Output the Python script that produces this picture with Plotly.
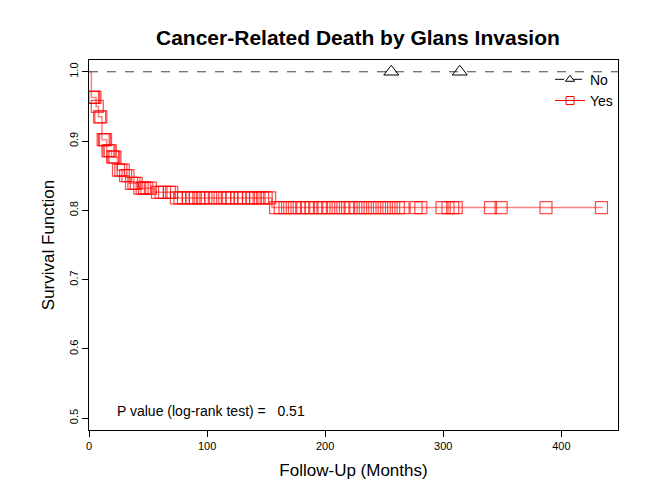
import plotly.graph_objects as go

# Kaplan-Meier steps (months, survival) for "Yes"
yes_event_t = [0, 2, 6, 8, 11, 15, 19, 24, 30, 34, 42, 55, 72, 155]
yes_event_s = [1.0, 0.963, 0.950, 0.935, 0.902, 0.886, 0.877, 0.858, 0.850, 0.839, 0.832, 0.826, 0.818, 0.804]
yes_end_t = 435

# censored times for "Yes"
yes_cens_t = [3, 4, 5, 7, 9, 10, 12, 13, 14, 16, 17, 18, 20, 21, 22, 25, 27, 29, 31, 33, 36, 38, 40, 43, 45, 47, 49,
              52, 58, 61, 64, 68, 70, 74, 77, 80, 84, 87, 90, 93, 96, 99, 103, 107, 111, 115, 118, 121, 125, 128,
              131, 135, 138, 141, 144, 147, 150, 153,
              158, 162, 166, 170, 174, 178, 181, 185, 188, 192, 196, 199, 203, 207, 211, 215, 219, 222, 226, 230,
              234, 238, 242, 246, 250, 254, 258, 262, 266, 277, 281, 299, 304, 308, 311, 340, 349, 387, 434]

# censored times for "No"
no_cens_t = [256, 314]
no_end_t = 314


def surv_at(t):
    s = 1.0
    for et, es in zip(yes_event_t, yes_event_s):
        if et <= t:
            s = es
    return s


step_x, step_y = [], []
for i, (t, s) in enumerate(zip(yes_event_t, yes_event_s)):
    if i > 0:
        step_x.append(t)
        step_y.append(yes_event_s[i - 1])
    step_x.append(t)
    step_y.append(s)
step_x.append(yes_end_t)
step_y.append(yes_event_s[-1])

fig = go.Figure()
fig.add_trace(go.Scatter(x=[0, no_end_t, 448], y=[1, 1, 1], mode='lines',
                         line=dict(color='#444444', dash='dash', width=1), showlegend=False, hoverinfo='skip'))
fig.add_trace(go.Scatter(x=no_cens_t, y=[1.0] * len(no_cens_t), mode='markers',
                         marker=dict(symbol='triangle-up-open', size=13, color='black', line=dict(width=1)),
                         showlegend=False))
fig.add_trace(go.Scatter(x=step_x, y=step_y, mode='lines',
                         line=dict(color='rgba(255,0,0,0.5)', width=1.5), showlegend=False, hoverinfo='skip'))
fig.add_trace(go.Scatter(x=yes_cens_t, y=[surv_at(t) for t in yes_cens_t], mode='markers',
                         marker=dict(symbol='square-open', size=12, color='rgba(255,0,0,0.7)', line=dict(width=1.2)),
                         showlegend=False))
# legend entries
fig.add_trace(go.Scatter(x=[None], y=[None], mode='lines+markers', name='No',
                         line=dict(color='black', dash='dash', width=1),
                         marker=dict(symbol='triangle-up-open', size=8, color='black')))
fig.add_trace(go.Scatter(x=[None], y=[None], mode='lines+markers', name='Yes',
                         line=dict(color='red', width=1),
                         marker=dict(symbol='square-open', size=8, color='red')))

fig.add_annotation(x=22, y=0.51, xref='x', yref='y', text='P value (log-rank test) =   0.51',
                   showarrow=False, xanchor='left', font=dict(size=14, color='black'))

axis = dict(showgrid=False, zeroline=False, showline=True, mirror=True, linecolor='black', linewidth=1,
            ticks='outside', ticklen=6, tickcolor='black', tickfont=dict(size=11, color='black'))
fig.update_xaxes(range=[0, 448], tickvals=[0, 100, 200, 300, 400], **axis,
                 title=dict(text='Follow-Up (Months)', font=dict(size=17, color='black'), standoff=12))
fig.update_yaxes(range=[0.483, 1.017], tickvals=[0.5, 0.6, 0.7, 0.8, 0.9, 1.0], tickformat='.1f', tickangle=-90,
                 **axis, title=dict(text='Survival Function', font=dict(size=17, color='black'), standoff=8))
fig.update_layout(width=648, height=504, plot_bgcolor='white', paper_bgcolor='white',
                  font=dict(family='Liberation Sans, Arial, sans-serif'),
                  margin=dict(l=81, r=38, t=52, b=82),
                  title=dict(text='<b>Cancer-Related Death by Glans Invasion</b>', x=0.54, xanchor='center',
                             y=0.955, font=dict(size=21, color='black')),
                  legend=dict(x=1.0, y=0.99, xanchor='right', yanchor='top', bgcolor='rgba(0,0,0,0)',
                              font=dict(size=14, color='black')))
fig.write_html("out.html")
